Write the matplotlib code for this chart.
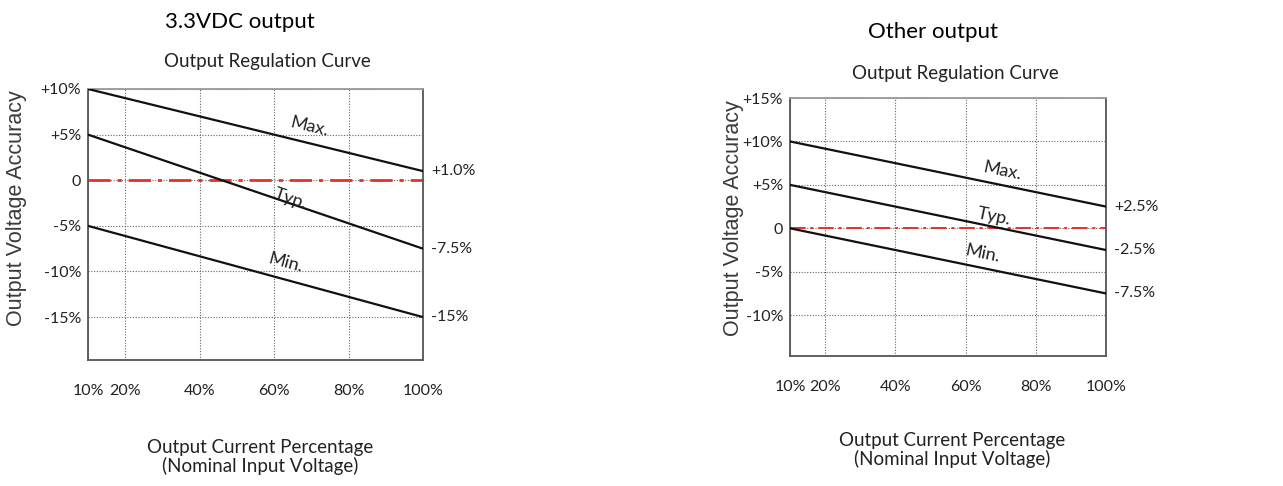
import numpy as np
import matplotlib
matplotlib.use('Agg')
from matplotlib import pyplot as plt

plt.rcParams['font.family'] = ['Lato', 'DejaVu Sans']

# data
load = [10, 100]
xticks = [10, 20, 40, 60, 80, 100]
xticklabels = ['10%', '20%', '40%', '60%', '80%', '100%']

# 3.3VDC output
left_max = [10, 1.0]
left_typ = [5, -7.5]
left_min = [-5, -15]
left_yticks = [10, 5, 0, -5, -10, -15]
left_yticklabels = ['+10%', '+5%', '0', '-5%', '-10%', '-15%']
left_endlabels = ['+1.0%', '-7.5%', '-15%']
left_tagpos = [(69.5, 5.9), (64.5, -2.0), (63, -9.0)]

# Other output
right_max = [10, 2.5]
right_typ = [5, -2.5]
right_min = [0, -7.5]
right_yticks = [15, 10, 5, 0, -5, -10]
right_yticklabels = ['+15%', '+10%', '+5%', '0', '-5%', '-10%']
right_endlabels = ['+2.5%', '-2.5%', '-7.5%']
right_tagpos = [(70.5, 6.6), (68, 1.3), (65, -2.9)]

tags = ['Max.', 'Typ.', 'Min.']

fig = plt.figure(figsize=(12.83, 4.86), dpi=100)


def draw(rect, lines, yticks, ylabels, ylim, endlabels, tagpos, redlw):
    ax = fig.add_axes(rect)
    ax.set_xlim(10, 100)
    ax.set_ylim(*ylim)
    ax.set_xticks(xticks)
    ax.set_xticklabels(xticklabels, fontsize=11.5, color='#222222')
    ax.set_yticks(yticks)
    ax.set_yticklabels(ylabels, fontsize=11.5, color='#222222')
    ax.tick_params(length=0)
    ax.tick_params(axis='x', pad=17)
    ax.tick_params(axis='y', pad=5)
    ax.grid(True, linestyle=(0, (1, 1.5)), color='#666666', linewidth=0.8)
    for s in ax.spines.values():
        s.set_color('#555555')
        s.set_linewidth(1.3)
    ax.spines['top'].set_color('#999999')
    ax.axhline(0, color='#e8302a', linewidth=redlw,
               linestyle=(0, (8, 2.5, 1.5, 2.5)), zorder=2)
    for vals, lab, tag, (tx, ty) in zip(lines, endlabels, tags, tagpos):
        ax.plot(load, vals, color='#111111', linewidth=1.6, zorder=3)
        ax.annotate(lab, (load[1], vals[1]), xytext=(6, 0),
                    textcoords='offset points', va='center', ha='left',
                    fontsize=11.5, color='#222222', annotation_clip=False)
        ang = np.degrees(np.arctan2(vals[1] - vals[0], load[1] - load[0]))
        ax.text(tx, ty, tag, fontsize=13, rotation=ang,
                transform_rotates_text=True, rotation_mode='anchor',
                ha='center', va='center', color='#222222')
    return ax


draw([88 / 1283, 126 / 486, 335 / 1283, 271 / 486],
     [left_max, left_typ, left_min], left_yticks, left_yticklabels,
     (-19.7, 10), left_endlabels, left_tagpos, 2.0)
draw([790 / 1283, 130 / 486, 316 / 1283, 258 / 486],
     [right_max, right_typ, right_min], right_yticks, right_yticklabels,
     (-14.7, 15), right_endlabels, right_tagpos, 1.4)

# titles and axis texts
fig.text(240 / 1283, 1 - 22 / 486, '3.3VDC output', fontsize=16,
         ha='center', va='center')
fig.text(267 / 1283, 1 - 62 / 486, 'Output Regulation Curve', fontsize=13.5,
         ha='center', va='center', color='#222222')
fig.text(17 / 1283, 1 - 208 / 486, 'Output Voltage Accuracy', fontsize=15.5,
         family='Liberation Sans', ha='center', va='center', rotation=90,
         color='#3a3a3a')
fig.text(260 / 1283, 1 - 457 / 486,
         'Output Current Percentage\n(Nominal Input Voltage)', fontsize=13.5,
         ha='center', va='center', color='#222222', linespacing=1.1)

fig.text(933 / 1283, 1 - 32 / 486, 'Other output', fontsize=16,
         ha='center', va='center')
fig.text(955 / 1283, 1 - 73 / 486, 'Output Regulation Curve', fontsize=13.5,
         ha='center', va='center', color='#222222')
fig.text(733 / 1283, 1 - 218 / 486, 'Output Voltage Accuracy', fontsize=15.5,
         family='Liberation Sans', ha='center', va='center', rotation=90,
         color='#3a3a3a')
fig.text(952 / 1283, 1 - 450 / 486,
         'Output Current Percentage\n(Nominal Input Voltage)', fontsize=13.5,
         ha='center', va='center', color='#222222', linespacing=1.1)

fig.savefig('out.png', dpi=100)
